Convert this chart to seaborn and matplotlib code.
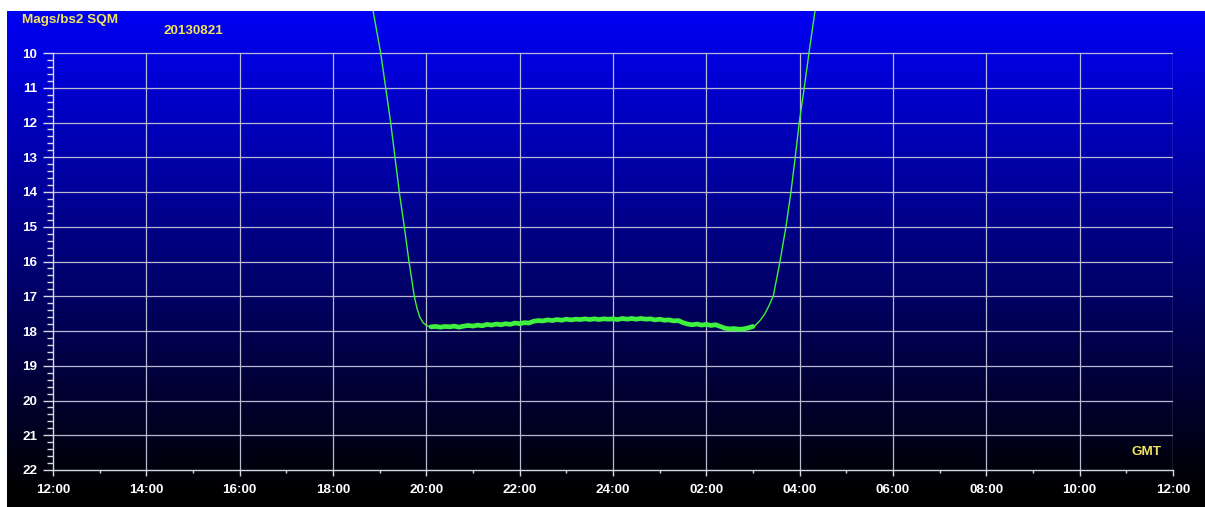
import numpy as np
import pandas as pd
import matplotlib
matplotlib.use("Agg")
import matplotlib.pyplot as plt
from matplotlib.ticker import FixedLocator
import seaborn as sns

# hours after 12:00 GMT on 20130821, and sky brightness in mags/arcsec^2
dusk_hours = [6.82, 7.022, 7.129, 7.236, 7.328, 7.42, 7.528, 7.628, 7.742,
              7.80, 7.86, 7.93, 8.0, 8.06]
dusk_mags = [8.5, 10.0, 11.0, 12.0, 13.0, 14.0, 15.0, 16.0, 17.0,
             17.35, 17.6, 17.76, 17.84, 17.87]

night_hours = [8.1, 8.2, 8.3, 8.4, 8.5, 8.6, 8.7, 8.8, 8.9, 9.0, 9.1, 9.2,
               9.3, 9.4, 9.5, 9.6, 9.7, 9.8, 9.9, 10.0, 10.1, 10.2, 10.3,
               10.4, 10.5, 10.6, 10.7, 10.8, 10.9, 11.0, 11.1, 11.2, 11.3,
               11.4, 11.5, 11.6, 11.7, 11.8, 11.9, 12.0, 12.1, 12.2, 12.3,
               12.4, 12.5, 12.6, 12.7, 12.8, 12.9, 13.0, 13.1, 13.2, 13.3,
               13.4, 13.5, 13.6, 13.7, 13.8, 13.9, 14.0, 14.1, 14.2, 14.3,
               14.4, 14.5, 14.6, 14.7, 14.8, 14.9, 15.0]
night_mags = [17.88, 17.87, 17.89, 17.87, 17.88, 17.86, 17.89, 17.86, 17.84,
              17.86, 17.83, 17.85, 17.81, 17.83, 17.8, 17.82, 17.79, 17.81,
              17.77, 17.79, 17.76, 17.77, 17.72, 17.7, 17.71, 17.68, 17.7,
              17.67, 17.69, 17.66, 17.68, 17.66, 17.67, 17.65, 17.67, 17.65,
              17.67, 17.65, 17.66, 17.65, 17.67, 17.64, 17.66, 17.64, 17.66,
              17.64, 17.66, 17.65, 17.68, 17.66, 17.69, 17.68, 17.71, 17.7,
              17.76, 17.8, 17.82, 17.8, 17.83, 17.81, 17.84, 17.82, 17.87,
              17.92, 17.94, 17.93, 17.95, 17.94, 17.91, 17.87]

dawn_hours = [15.042, 15.15, 15.256, 15.35, 15.434, 15.578, 15.706, 15.813,
              15.905, 15.991, 16.098, 16.199, 16.36]
dawn_mags = [17.85, 17.7, 17.5, 17.25, 17.0, 16.0, 15.0, 14.0,
             13.0, 12.0, 11.0, 10.0, 8.5]

x_ticks = list(range(0, 25, 2))
x_labels = ["12:00", "14:00", "16:00", "18:00", "20:00", "22:00", "24:00",
            "02:00", "04:00", "06:00", "08:00", "10:00", "12:00"]
y_ticks = list(range(10, 23))

W, H = 1205, 507
sns.set_theme(style="ticks")
plt.rcParams["font.family"] = ["Liberation Sans", "DejaVu Sans"]

fig = plt.figure(figsize=(W / 100, H / 100), dpi=100)
fig.patch.set_facecolor("white")

# background gradient blue -> black
bg = fig.add_axes([7 / W, 0, 1 - 7 / W, 1 - 11 / H])
grad = np.linspace(1, 0, 256)
grad = np.clip((grad - 0.03) / 0.97, 0, 1)
img = np.zeros((256, 2, 3))
img[:, :, 2] = (grad * 0.96)[:, None]
bg.imshow(img, aspect="auto", extent=[0, 1, 0, 1])
bg.set_axis_off()

ax = fig.add_axes([53 / W, 37 / H, 1120 / W, (470 - 11) / H])
ax.set_facecolor("none")
ax.set_xlim(0, 24)
ax.set_ylim(22, 22 - (470 - 11) / 34.75)

grid_c = "#b9b9d2"
ax.hlines(y_ticks[:-1], 0, 24, color=grid_c, lw=0.9, zorder=1)
ax.vlines(x_ticks[1:], 10, 22, color=grid_c, lw=0.9, zorder=1)

green = "#3ff03f"
df = pd.DataFrame({
    "hours": dusk_hours + night_hours + dawn_hours,
    "mag": dusk_mags + night_mags + dawn_mags,
})
sns.lineplot(data=df, x="hours", y="mag", ax=ax, color=green, lw=1.0, zorder=3)
sns.lineplot(x=night_hours, y=night_mags, ax=ax, color=green, lw=3.4, zorder=3)

for side in ["top", "right"]:
    ax.spines[side].set_visible(False)
for side in ["left", "bottom"]:
    ax.spines[side].set_color("#d8d8e4")
    ax.spines[side].set_linewidth(1.0)
ax.spines["left"].set_bounds(10, 22)

fs = 9.7
ax.yaxis.set_major_locator(FixedLocator(y_ticks))
ax.yaxis.set_minor_locator(FixedLocator(np.arange(10, 22.01, 0.2)))
ax.set_yticklabels([str(v) for v in y_ticks], fontweight="bold", fontsize=fs,
                   color="white")
ax.xaxis.set_major_locator(FixedLocator(x_ticks))
ax.xaxis.set_minor_locator(FixedLocator(list(range(1, 24, 2))))
ax.set_xticklabels(x_labels, fontweight="bold", fontsize=fs, color="white")

ax.tick_params(axis="y", which="major", direction="out", length=7.2, width=1,
               color="#d8d8e4", pad=4.0)
ax.tick_params(axis="y", which="minor", direction="out", length=4.2, width=1,
               color="#d8d8e4")
ax.tick_params(axis="x", which="major", direction="out", length=4.3, width=1,
               color="#d8d8e4", pad=6.0)
ax.tick_params(axis="x", which="minor", direction="out", length=2.2, width=1,
               color="#d8d8e4")
ax.set_xlabel("")
ax.set_ylabel("")

yellow = "#efe35f"
fig.text(22 / W, 1 - 20 / H, "Mags/bs2 SQM", color=yellow, fontsize=fs,
         fontweight="bold", va="center", ha="left")
fig.text(163 / W, 1 - 31 / H, "20130821", color=yellow, fontsize=fs,
         fontweight="bold", va="center", ha="left")
fig.text(1131 / W, 1 - 452 / H, "GMT", color=yellow, fontsize=fs,
         fontweight="bold", va="center", ha="left")

fig.savefig("out.png", dpi=100)
